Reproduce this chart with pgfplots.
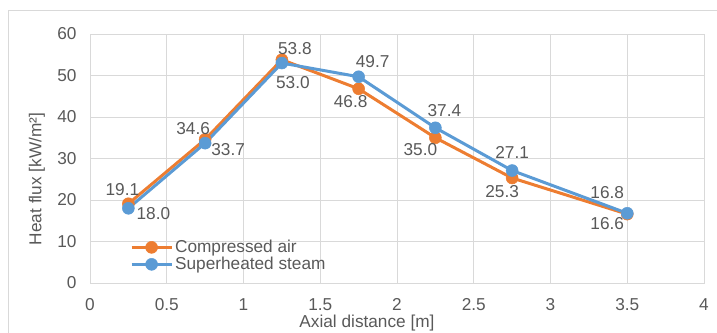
\documentclass[border=0pt]{standalone}
\usepackage{fontspec}
\setmainfont{Liberation Sans}
\usepackage{pgfplots}
\pgfplotsset{compat=1.18}
\usepackage{pgfplotstable}
\definecolor{cAir}{HTML}{ED7D31}
\definecolor{cSteam}{HTML}{5B9BD5}
\definecolor{txt}{HTML}{595959}
\definecolor{gridc}{HTML}{D9D9D9}

\pgfplotstableread{
x y dx dy
0.25 19.1 -6 14
0.75 34.6 -12 11
1.25 53.8 13 11
1.75 46.8 -8 -13
2.25 35.0 -15 -12
2.75 25.3 -10 -14
3.5 16.6 -20 -9
}\air
\pgfplotstableread{
x y dx dy
0.25 18.0 25 -5
0.75 33.7 23 -6
1.25 53.0 11 -20
1.75 49.7 14 15
2.25 37.4 9 17
2.75 27.1 0 18
3.5 16.8 -20 21
}\steam

\begin{document}
\begin{tikzpicture}[font=\fontsize{17.3}{20}\selectfont]
\path[use as bounding box] (0,0) rectangle (717bp,-333bp);
\draw[gridc, line width=0.75bp] (720bp,-10bp) -- (8bp,-10bp) -- (8bp,-340bp);
\begin{axis}[
  at={(90bp,-283bp)}, anchor=south west,
  scale only axis, width=614bp, height=249bp,
  xmin=0, xmax=4, ymin=0, ymax=60,
  xtick={0,0.5,1,1.5,2,2.5,3,3.5,4},
  xticklabels={0,0.5,1,1.5,2,2.5,3,3.5,4},
  ytick={0,10,20,30,40,50,60},
  yticklabels={0,10,20,30,40,50,60},
  grid=major,
  major grid style={gridc, line width=0.75bp},
  axis line style={gridc, line width=0.75bp},
  major tick length=0pt,
  tick label style={text=txt, font=\fontsize{17.3}{20}\selectfont},
  xticklabel style={yshift=-12bp},
  yticklabel style={xshift=-10bp},
  /pgf/number format/assume math mode=true,
  legend style={at={(0.065,0.18)}, anchor=north west, draw=none, fill=none,
    font=\fontsize{17.3}{20}\selectfont, text=txt, inner sep=0pt, row sep=-1bp,
    /tikz/every even column/.append style={column sep=4bp}},
  legend cell align=left,
  legend image code/.code={\draw[mark repeat=2,mark phase=2,#1,line width=3bp] plot coordinates {(0bp,0bp) (20bp,0bp) (40bp,0bp)};},
  nodes near coords={\pgfmathprintnumber[fixed,fixed zerofill,precision=1]{\pgfplotspointmeta}},
  visualization depends on={\thisrow{dx} \as \dx},
  visualization depends on={\thisrow{dy} \as \dy},
  every node near coord/.append style={anchor=center, xshift=\dx bp, yshift=\dy bp, text=txt, font=\fontsize{17.3}{20}\selectfont},
]
\addplot[cAir, line width=3bp, mark=*, mark size=6bp, mark options={fill=cAir, draw=cAir, line width=0.5bp}] table[x=x,y=y] {\air};
\addlegendentry{Compressed air}
\addplot[cSteam, line width=3bp, mark=*, mark size=6bp, mark options={fill=cSteam, draw=cSteam, line width=0.5bp}] table[x=x,y=y] {\steam};
\addlegendentry{Superheated steam}
\end{axis}
\node[rotate=90, text=txt] at (37bp,-179bp) {Heat flux [kW/m²]};
\node[text=txt] at (367bp,-323bp) {Axial distance [m]};
\end{tikzpicture}
\end{document}
